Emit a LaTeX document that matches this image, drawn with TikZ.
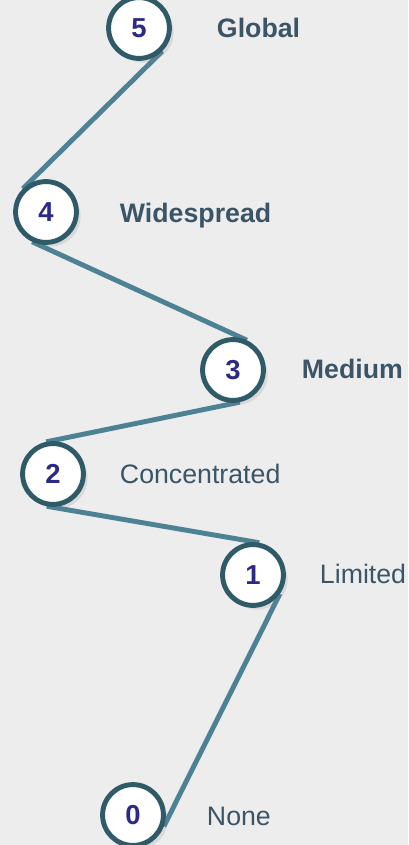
\documentclass[tikz,border=0pt]{standalone}
\usepackage{fontspec}
\setmainfont{Liberation Sans}
\usetikzlibrary{shadows,backgrounds}
\definecolor{ringcol}{HTML}{2F5B68}
\definecolor{cablecol}{HTML}{4D8295}
\definecolor{numcol}{HTML}{2C2A86}
\definecolor{txtcol}{HTML}{3B5567}
\definecolor{bgcol}{HTML}{EDEDEE}
\begin{document}
\begin{tikzpicture}[x=0.025cm, y=-0.025cm,
    level/.style={circle, draw=ringcol, line width=3.5pt, fill=white, minimum size=1.52cm, inner sep=0pt,
      font=\fontsize{19.5}{22}\selectfont\bfseries, text=numcol,
      drop shadow={opacity=0.18, shadow xshift=3pt, shadow yshift=-3pt}},
    cable/.style={draw=cablecol, line width=3.5pt},
    lbl/.style={anchor=base west, text=txtcol, font=\fontsize{19}{22}\selectfont},
    boldlbl/.style={lbl, font=\fontsize{19}{22}\selectfont\bfseries}]
    \useasboundingbox (0,0) rectangle (408,845);

    % Stufen
    \node[level] (n5) at (139,28) {5};
    \node[level] (n4) at (46,212) {4};
    \node[level] (n3) at (233,370) {3};
    \node[level] (n2) at (53,474) {2};
    \node[level] (n1) at (253,575) {1};
    \node[level] (n0) at (133,815) {0};

    % Beschriftungen
    \node[boldlbl] (l5) at (212,38) {Global};
    \node[boldlbl] (l4) at (115,223) {Widespread};
    \node[boldlbl] (l3) at (297,378) {Medium};
    \node[lbl] (l2) at (115,483) {Concentrated};
    \node[lbl] (l1) at (315,583) {Limited};
    \node[lbl] (l0) at (202,825) {None};

    % Kabel hinter den Kreisen, jeweils tangential
    \begin{scope}[on background layer]
        \fill[bgcol] (0,0) rectangle (408,845);
        \draw[cable] (n5.-45) -- (n4.135);
        \draw[cable] (n4.-115) -- (n3.65);
        \draw[cable] (n3.-78) -- (n2.102);
        \draw[cable] (n2.-101) -- (n1.79);
        \draw[cable] (n1.-35) -- (n0.-20);
    \end{scope}
\end{tikzpicture}
\end{document}
